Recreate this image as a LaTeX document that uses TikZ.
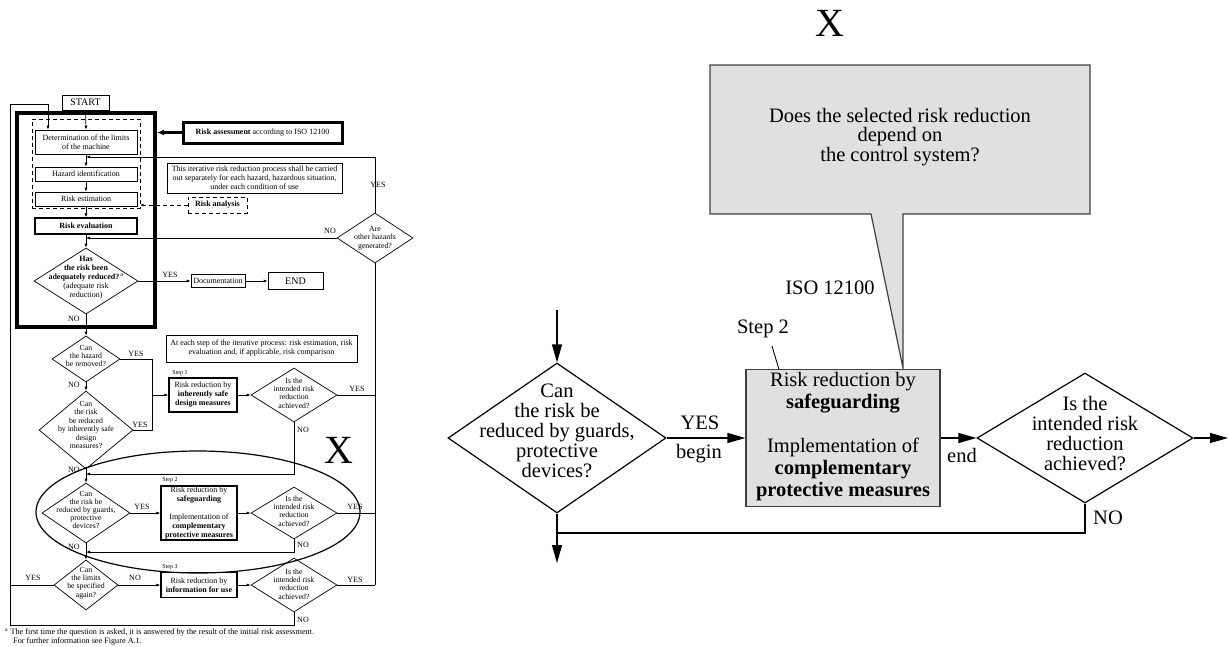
\documentclass[tikz,border=0pt]{standalone}
\usepackage{fontspec}
\setmainfont{Liberation Serif}
\usetikzlibrary{arrows.meta,shapes.geometric}
\definecolor{boxgray}{RGB}{224,224,224}
\definecolor{boxedge}{RGB}{64,64,64}
\tikzset{
  lt/.style={font=\fontsize{8}{9}\selectfont, align=center, inner sep=0pt},
  dt/.style={font=\fontsize{7.8}{8.4}\selectfont, align=center, inner sep=0pt},
  lbox/.style={draw, line width=0.7pt, inner sep=0pt},
  ldia/.style={draw, diamond, inner sep=0pt, line width=0.7pt},
  ln/.style={line width=0.7pt},
  la/.style={line width=0.7pt, -{Latex[length=4pt,width=3pt]}},
  bt/.style={font=\fontsize{20.5}{20}\selectfont, align=center, inner sep=0pt},
  bdia/.style={draw, diamond, inner sep=0pt, line width=1.2pt},
  bl/.style={line width=1.2pt},
  ba/.style={line width=1.2pt, -{Triangle[length=18pt,width=10pt]}},
  gbox/.style={draw=boxedge, fill=boxgray, line width=1.2pt, inner sep=0pt},
  bigx/.style={font=\fontsize{40}{40}\selectfont, inner sep=0pt},
}
\begin{document}
\begin{tikzpicture}[x=1pt,y=-1pt]
\useasboundingbox (0,0) rectangle (1229,646);

% ===================== LEFT CHART =====================
\node[lbox, minimum width=47pt, minimum height=15pt, font=\fontsize{10}{10}\selectfont] (start) at (85.5,102.5) {START};
\node[draw, line width=4pt, inner sep=0pt, minimum width=138pt, minimum height=214pt] (rab) at (86,220) {};
\node[draw, dashed, line width=0.9pt, dash pattern=on 4pt off 3pt, inner sep=0pt, minimum width=108pt, minimum height=89pt] (ana) at (86,163.5) {};
\node[lbox, minimum width=102pt, minimum height=24pt, lt] (det) at (86,142) {Determination of the limits\\of the machine};
\node[lbox, minimum width=102pt, minimum height=14pt, lt] (haz) at (86,174) {Hazard identification};
\node[lbox, minimum width=102pt, minimum height=14pt, lt] (est) at (86,199) {Risk estimation};
\node[lbox, line width=1.3pt, minimum width=102pt, minimum height=16pt, lt] (eva) at (86,226) {\textbf{Risk evaluation}};
\node[ldia, minimum width=104pt, minimum height=66pt] (has) at (86,281) {};
\node[lt] (hast) at (86,278) {\textbf{Has}\\\textbf{the risk been}\\\textbf{adequately reduced?}\textsuperscript{\,a}\\(adequate risk\\reduction)};

\node[draw, line width=3pt, inner sep=0pt, minimum width=159pt, minimum height=21pt, lt] (ra) at (262.5,132.5) {\textbf{Risk assessment} according to ISO 12100};
\node[lbox, minimum width=175pt, minimum height=30pt, lt] (itr) at (254.5,178) {This iterative risk reduction process shall be carried\\out separately for each hazard, hazardous situation,\\under each condition of use};
\node[draw, dashed, line width=0.9pt, dash pattern=on 4pt off 3pt, inner sep=0pt, minimum width=59pt, minimum height=16pt, lt] (ran) at (217.5,205) {\textbf{Risk analysis}};

\node[ldia, minimum width=76pt, minimum height=50pt] (oh) at (375,238) {};
\node[dt] (oht) at (375,238) {Are\\other hazards\\generated?};

\node[lbox, minimum width=54pt, minimum height=13pt, lt] (doc) at (218,281) {Documentation};
\node[lbox, minimum width=55pt, minimum height=17pt, font=\fontsize{10}{10}\selectfont] (endn) at (295.5,281) {END};

\node[lbox, minimum width=191pt, minimum height=27pt, lt] (each) at (261.5,348.5) {At each step of the iterative process: risk estimation, risk\\evaluation and, if applicable, risk comparison};

\node[ldia, minimum width=68pt, minimum height=46pt] (hz) at (86,359) {};
\node[dt] (hzt) at (86,356) {Can\\the hazard\\be removed?};
\node[ldia, minimum width=94pt, minimum height=78pt] (inh) at (86,430) {};
\node[dt] (inht) at (86,425) {Can\\the risk\\be reduced\\by inherently safe\\design\\measures?};
\node[lbox, line width=1.3pt, minimum width=68pt, minimum height=34pt, lt] (s1) at (203,395) {Risk reduction by\\\textbf{inherently safe}\\\textbf{design measures}};
\node[ldia, minimum width=86pt, minimum height=54pt] (a1) at (294,395) {};
\node[dt] (a1t) at (294,393) {Is the\\intended risk\\reduction\\achieved?};

\node[ldia, minimum width=88pt, minimum height=60pt] (gd) at (86,513) {};
\node[dt, font=\fontsize{7.8}{8.1}\selectfont] (gdt) at (86,510) {Can\\the risk be\\reduced by guards,\\protective\\devices?};
\node[lbox, line width=1.3pt, minimum width=76pt, minimum height=54pt, lt] (s2) at (199,513) {Risk reduction by\\\textbf{safeguarding}\\[9pt]Implementation of\\\textbf{complementary}\\\textbf{protective measures}};
\node[ldia, minimum width=86pt, minimum height=52pt] (a2) at (294,513) {};
\node[dt] (a2t) at (294,511) {Is the\\intended risk\\reduction\\achieved?};

\node[ldia, minimum width=64pt, minimum height=50pt] (lim) at (86,585) {};
\node[dt] (limt) at (86,583) {Can\\the limits\\be specified\\again?};
\node[lbox, line width=1.3pt, minimum width=76pt, minimum height=25pt, lt] (s3) at (199,585) {Risk reduction by\\\textbf{information for use}};
\node[ldia, minimum width=86pt, minimum height=54pt] (a3) at (294,585) {};
\node[dt] (a3t) at (294,584) {Is the\\intended risk\\reduction\\achieved?};

% step labels
\node[lt, font=\fontsize{6}{6}\selectfont] (st1) at (180,373) {Step 1};
\node[lt, font=\fontsize{6}{6}\selectfont] (st2) at (170,480) {Step 2};
\node[lt, font=\fontsize{6}{6}\selectfont] (st3) at (170,567) {Step 3};

% yes/no labels
\node[lt] (y0) at (378,185) {YES};
\node[lt] (n0) at (330,231) {NO};
\node[lt] (y1) at (170,275) {YES};
\node[lt] (n1) at (74,319) {NO};
\node[lt] (y2) at (136,354) {YES};
\node[lt] (n2) at (74,385) {NO};
\node[lt] (y3) at (140,425) {YES};
\node[lt] (n3) at (74,470) {NO};
\node[lt] (y4) at (357,389) {YES};
\node[lt] (n4) at (303,430) {NO};
\node[lt] (y5) at (142,507) {YES};
\node[lt] (n5) at (74,547) {NO};
\node[lt] (y6) at (355,507) {YES};
\node[lt] (n6) at (303,545) {NO};
\node[lt] (y7) at (33,578) {YES};
\node[lt] (n7) at (135,578) {NO};
\node[lt] (y8) at (355,580) {YES};
\node[lt] (n8) at (303,620) {NO};

% connectors
\coordinate (c1) at (10,625);
\coordinate (c2) at (10,104);
\coordinate (c3) at (48,104);
\draw[la] (start.south) -- (det.north);
\draw[la] (det.south) -- (haz.north);
\draw[la] (haz.south) -- (est.north);
\draw[la] (est.south) -- (eva.north);
\draw[la] (eva.south) -- (has.north);
\draw[la] (has.east) -- (doc.west);
\draw[la] (doc.east) -- (endn.west);
\draw[la] (has.south) -- (hz.north);
\draw[la] (hz.south) -- (inh.north);
\draw[la] (inh.south) -- (gd.north);
\draw[la] (gd.south) -- (lim.north);
\draw[line width=2.5pt, -{Latex[length=7pt,width=6pt]}] (ra.west) -- (ra.west -| rab.east);
\draw[ln, dashed, dash pattern=on 4pt off 3pt, -{Latex[length=3pt,width=3pt]}] (ran.west) -- (ran.west -| ana.east);
\draw[la] (oh.north) |- (det.south |- 0,157);
\draw[la] (oh.west) -- (oh.west -| eva.south);
\coordinate (cj) at (152,430);
\draw[ln] (hz.east) -| (cj) -- (inh.east);
\draw[la] (s1.west -| cj) -- (s1.west);
\draw[la] (s1.east) -- (a1.west);
\draw[la] (a1.south) |- (86,474);
\draw[la] (gd.east) -- (s2.west);
\draw[la] (s2.east) -- (a2.west);
\draw[la] (a2.south) |- (86,552);
\draw[la] (lim.east) -- (s3.west);
\draw[la] (s3.east) -- (a3.west);
\draw[ln] (lim.west) -- (lim.west -| c1);
\draw[la] (a3.south) |- (c1) -- (c2) -- (c3) -- (c3 |- det.north);
\draw[ln] (oh.south) -- (375,585);
\draw[ln] (a1.east) -- (375,395);
\draw[ln] (a2.east) -- (375,513);
\draw[ln] (a3.east) -- (375,585);

\draw[line width=1.2pt] (198,512) ellipse [x radius=162pt, y radius=61pt];
\node[bigx] (lx) at (339,450) {X};

% footnote
\node[font=\fontsize{8.2}{9}\selectfont, anchor=west, align=left, inner sep=0pt] (fn) at (5,637) {\textsuperscript{a}\;The first time the question is asked, it is answered by the result of the initial risk assessment.\\\hspace*{8pt}For further information see Figure A.1.};

% ===================== RIGHT DETAIL =====================
\node[bigx] (rx) at (830,23) {X};
\draw[draw=boxedge, fill=boxgray, line width=1.2pt] (710,65) -- (1090,65) -- (1090,214) -- (903,214) -- (903,368) -- (871,214) -- (710,214) -- cycle;
\node[bt, font=\fontsize{20.5}{19.5}\selectfont] (callt) at (900,137) {Does the selected risk reduction\\depend on\\the control system?};

\node[bdia, minimum width=218pt, minimum height=150pt] (rd1) at (557,438) {};
\node[bt] (rd1t) at (557,431) {Can\\the risk be\\reduced by guards,\\protective\\devices?};
\node[gbox, minimum width=194pt, minimum height=137pt] (rbox) at (843,438) {};
\node[bt, font=\fontsize{20.5}{22}\selectfont] (rboxt) at (843,436.5) {Risk reduction by\\\textbf{safeguarding}\\[22pt]Implementation of\\\textbf{complementary}\\\textbf{protective measures}};
\node[bdia, minimum width=216pt, minimum height=130pt] (rd2) at (1085,438) {};
\node[bt] (rd2t) at (1085,434) {Is the\\intended risk\\reduction\\achieved?};

\coordinate (rin) at (557,310);
\coordinate (rout) at (557,563);
\coordinate (rj) at (557,533);
\coordinate (rexit) at (1228,438);
\coordinate (s2a) at (772,346);
\coordinate (s2b) at (779,369.5);
\draw[ba] (rin) -- (rd1.north);
\draw[ba] (rd1.south) -- (rout);
\draw[ba] (rd1.east) -- (rbox.west);
\draw[ba] (rbox.east) -- (rd2.west);
\draw[ba] (rd2.east) -- (rexit);
\draw[bl] (rd2.south) |- (rj);
\draw[line width=0.9pt] (s2a) -- (s2b);

\node[bt] (ryes) at (700,423) {YES};
\node[bt] (rbeg) at (699,454) {begin};
\node[bt] (rend) at (962,455) {end};
\node[bt] (rno) at (1108,518) {NO};
\node[bt] (rst2) at (763,329) {Step 2};
\node[bt] (riso) at (830,288) {ISO 12100};
\end{tikzpicture}
\end{document}
